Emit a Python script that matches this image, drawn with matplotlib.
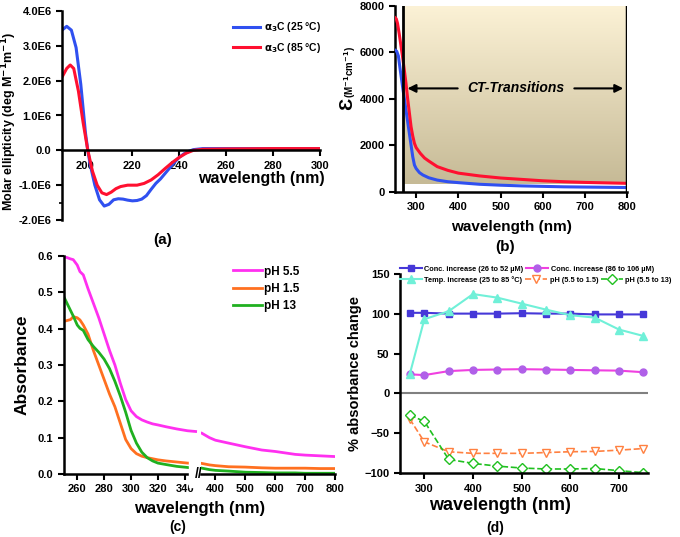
import numpy as np
import matplotlib
matplotlib.use('Agg')
import matplotlib.pyplot as plt

plt.rcParams['font.family'] = ['Liberation Sans', 'DejaVu Sans']
plt.rcParams['font.weight'] = 'bold'
plt.rcParams['axes.labelweight'] = 'bold'
plt.rcParams['axes.linewidth'] = 1.8
plt.rcParams['xtick.major.width'] = 1.5
plt.rcParams['ytick.major.width'] = 1.5
plt.rcParams['xtick.major.size'] = 4
plt.rcParams['ytick.major.size'] = 4
plt.rcParams['xtick.labelsize'] = 8
plt.rcParams['ytick.labelsize'] = 8
plt.rcParams['mathtext.default'] = 'bf'

# ---------- (a) CD spectra ----------
cd_wl_25 = [190, 192, 194, 196, 198, 200, 201, 202, 204, 206, 208, 210, 212, 214, 216, 218, 220, 222,
            224, 226, 228, 230, 232, 234, 236, 238, 240, 242, 244, 246, 250, 260, 280, 300]
cd_25 = [3.45, 3.56, 3.45, 2.95, 1.9, 0.5, 0.0, -0.4, -1.0, -1.42, -1.6, -1.55, -1.42, -1.39, -1.4, -1.43,
         -1.45, -1.44, -1.4, -1.3, -1.12, -0.95, -0.82, -0.66, -0.5, -0.34, -0.2, -0.1, -0.03, 0.02,
         0.05, 0.05, 0.05, 0.05]
cd_wl_85 = [190, 192, 193.5, 195, 197, 199, 201, 203, 205, 207, 209, 211, 213, 215, 218, 222, 225, 228,
            231, 234, 237, 240, 243, 246, 250, 260, 280, 300]
cd_85 = [2.1, 2.35, 2.45, 2.35, 1.7, 0.8, 0.0, -0.6, -1.0, -1.22, -1.27, -1.2, -1.1, -1.04, -1.0, -1.0,
         -0.95, -0.85, -0.7, -0.52, -0.35, -0.2, -0.08, 0.0, 0.03, 0.04, 0.05, 0.05]

# ---------- (b) molar absorptivity ----------
eps_wl_red = [250, 253, 256, 260, 264, 268, 272, 276, 280, 284, 288, 292, 296, 300, 310, 320, 330, 340,
              350, 375, 400, 450, 500, 550, 600, 650, 700, 750, 800]
eps_red = [7500, 7450, 7250, 6800, 6300, 5800, 5250, 4670, 4000, 3400, 2800, 2400, 2085, 1900, 1650,
           1450, 1320, 1200, 1080, 920, 800, 680, 590, 530, 470, 430, 400, 380, 360]
eps_wl_blue = [250, 254, 258, 262, 268, 276, 284, 292, 296, 300, 308, 316, 330, 350, 375, 400, 450, 500,
               550, 600, 650, 700, 750, 800]
eps_blue = [6100, 6050, 5850, 5300, 4520, 3520, 2515, 1508, 1150, 1000, 820, 720, 600, 500, 430, 390,
            320, 280, 250, 230, 210, 200, 190, 180]

# ---------- (c) absorbance at different pH ----------
abs_wl = [250, 255, 257, 260, 262, 264.5, 268, 272, 276, 280, 284, 288, 292, 296, 300, 304, 308, 312,
          316, 320, 326, 334, 342, 348, 355, 380, 400, 444, 500, 555, 600, 667, 700, 750, 800]
abs_ph55 = [0.599, 0.592, 0.59, 0.575, 0.557, 0.548, 0.51, 0.47, 0.43, 0.385, 0.34, 0.3, 0.25, 0.205,
            0.174, 0.158, 0.149, 0.143, 0.138, 0.135, 0.13, 0.124, 0.119, 0.117, 0.112, 0.1, 0.093,
            0.085, 0.075, 0.066, 0.062, 0.054, 0.052, 0.05, 0.048]
abs_ph15 = [0.42, 0.425, 0.433, 0.43, 0.424, 0.41, 0.385, 0.34, 0.3, 0.26, 0.22, 0.185, 0.14, 0.095,
            0.07, 0.056, 0.049, 0.045, 0.042, 0.039, 0.036, 0.033, 0.03, 0.029, 0.029, 0.025, 0.023,
            0.02, 0.019, 0.017, 0.016, 0.016, 0.016, 0.015, 0.015]
abs_ph13 = [0.488, 0.45, 0.435, 0.41, 0.401, 0.395, 0.37, 0.351, 0.335, 0.316, 0.29, 0.255, 0.215,
            0.17, 0.12, 0.085, 0.06, 0.045, 0.036, 0.03, 0.026, 0.021, 0.018, 0.016, 0.016, 0.012,
            0.01, 0.008, 0.005, 0.004, 0.003, 0.003, 0.002, 0.002, 0.002]

# ---------- (d) % absorbance change ----------
d_wl = [270, 300, 350, 400, 450, 500, 550, 600, 650, 700, 750]
conc_26_52 = [101, 101, 100, 100, 100, 100.5, 100, 100, 99, 99, 99]
conc_86_106 = [24, 23, 28, 29.5, 30, 30.4, 30, 29.5, 29, 28.6, 26.6]
temp_25_85 = [24, 93, 103, 124.5, 120, 112.5, 105, 98, 95, 80, 72]
ph_55_15 = [-32, -60.6, -73, -75, -75, -75, -74, -73, -72.6, -71, -69]
ph_55_13 = [-27, -35, -82.6, -87.6, -91, -93.4, -94.6, -94.6, -94, -96.7, -99.2]

W, H = 680, 537
fig = plt.figure(figsize=(W / 100, H / 100), dpi=100)


def box(l, t, r, b):
    return [l / W, 1 - b / H, (r - l) / W, (b - t) / H]


# ===== panel (a) =====
ax = fig.add_axes(box(62, 11, 320, 220))
ax.plot(cd_wl_25, np.array(cd_25) * 1e6, color='#3050F0', lw=2.2, label=r'$\alpha_3$C (25 °C)')
ax.plot(cd_wl_85, np.array(cd_85) * 1e6, color='#FF1030', lw=2.2, label=r'$\alpha_3$C (85 °C)')
ax.set_xlim(190, 300)
ax.set_ylim(-2e6, 4e6)
ax.spines['bottom'].set_position(('data', 0))
ax.spines['top'].set_visible(False)
ax.spines['right'].set_visible(False)
ax.set_xticks([200, 220, 240, 260, 280, 300])
ax.set_yticks([-2e6, -1e6, 0, 1e6, 2e6, 3e6, 4e6])
ax.set_yticklabels(['-2.0E6', '-1.0E6', '0.0', '1.0E6', '2.0E6', '3.0E6', '4.0E6'])
ax.set_yticks([-1.5e6], minor=True)
ax.tick_params(axis='y', which='minor', length=2, width=1.2)
ax.set_ylabel('Molar ellipticity (deg M$^{-1}$m$^{-1}$)', fontsize=9)
ax.yaxis.set_label_coords(-0.165, 0.47)
ax.text(1.02, 0.2, 'wavelength (nm)', transform=ax.transAxes, ha='right', va='center',
        fontsize=11.5)
ax.legend(loc='upper right', bbox_to_anchor=(1.04, 1.0), frameon=False, fontsize=7.5,
          handlelength=2.6, handletextpad=0.3, labelspacing=0.6)
fig.text(163 / W, 1 - 240 / H, '(a)', ha='center', va='center', fontsize=11)

# ===== panel (b) =====
ax = fig.add_axes(box(395, 6, 627.3, 191.7))
grad = np.linspace(0, 1, 256).reshape(-1, 1)
cmap = matplotlib.colors.LinearSegmentedColormap.from_list('tan', ['#C6BA96', '#FCF2D6'])
ax.imshow(grad, extent=[270, 800, 320, 8000], origin='lower', aspect='auto', cmap=cmap, zorder=0)
ax.plot(eps_wl_blue, eps_blue, color='#3050F0', lw=2.2, zorder=3)
ax.plot(eps_wl_red, eps_red, color='#FF1030', lw=2.2, zorder=3)
ax.axvline(270, color='black', lw=2, zorder=4)
ax.axvline(800, color='black', lw=2.5, zorder=4)
ax.set_xlim(250, 800)
ax.set_ylim(0, 8000)
ax.spines['top'].set_visible(False)
ax.spines['right'].set_visible(False)
ax.set_xticks([300, 400, 500, 600, 700, 800])
ax.set_yticks([0, 2000, 4000, 6000, 8000])
ax.annotate('', xy=(273, 4450), xytext=(405, 4450),
            arrowprops=dict(arrowstyle='-|>', color='black', lw=1.5, mutation_scale=12), zorder=5)
ax.annotate('', xy=(797, 4450), xytext=(668, 4450),
            arrowprops=dict(arrowstyle='-|>', color='black', lw=1.5, mutation_scale=12), zorder=5)
ax.text(537, 4450, 'CT-Transitions', ha='center', va='center', fontsize=10, style='italic', zorder=5)
ax.set_xlabel('wavelength (nm)', fontsize=11, labelpad=6)
fig.text(348 / W, 1 - 104 / H, 'Ɛ', rotation=90, ha='center', va='center', fontsize=14)
fig.text(350 / W, 1 - 72 / H, '(M$^{-1}$cm$^{-1}$)', rotation=90, ha='center', va='center',
         fontsize=7)
fig.text(505 / W, 1 - 247 / H, '(b)', ha='center', va='center', fontsize=11)

# ===== panel (c) =====
wl = np.array(abs_wl)
left = wl <= 350
right = wl >= 350
axL = fig.add_axes(box(63.8, 256, 198.3, 474))
axR = fig.add_axes(box(200.5, 256, 335, 474))
series_c = [(abs_ph55, '#FF30F0', 'pH 5.5'), (abs_ph15, '#FF7020', 'pH 1.5'),
            (abs_ph13, '#20B020', 'pH 13')]
for vals, col, lab in series_c:
    v = np.array(vals)
    axL.plot(wl[left], v[left], color=col, lw=2, label=lab)
    axR.plot(wl[right], v[right], color=col, lw=2)
for a in (axL, axR):
    a.set_ylim(0, 0.6)
    a.spines['top'].set_visible(False)
    a.spines['right'].set_visible(False)
axL.set_xlim(250, 350)
axR.set_xlim(350, 800)
axL.set_xticks([260, 280, 300, 320, 340])
axR.set_xticks([400, 500, 600, 700, 800])
axL.set_yticks([0, 0.1, 0.2, 0.3, 0.4, 0.5, 0.6])
axR.spines['left'].set_visible(False)
axR.set_yticks([])
axL.set_ylabel('Absorbance', fontsize=12.5, labelpad=6)
axL.text(1.0, 0.0, '//', transform=axL.transAxes, ha='center', va='center', fontsize=10,
         backgroundcolor='white', zorder=6)
fig.text(200 / W, 1 - 508 / H, 'wavelength (nm)', ha='center', va='center', fontsize=12)
fig.text(178 / W, 1 - 527 / H, '(c)', ha='center', va='center', fontsize=10)
fig.legend(handles=axL.get_lines(), loc='upper left', bbox_to_anchor=(222 / W, 1 - 255 / H),
           frameon=False, fontsize=8.5, handlelength=2.5, handletextpad=0.2, labelspacing=0.45)

# ===== panel (d) =====
ax = fig.add_axes(box(400, 273.7, 648.3, 473.3))
ax.axhline(0, color='#808080', lw=1.5, zorder=1)
h1, = ax.plot(d_wl, conc_26_52, color='#4638D8', lw=1.5, marker='s', ms=5,
              label='Conc. increase (26 to 52 µM)')
h2, = ax.plot(d_wl, conc_86_106, color='#F040E0', lw=1.5, marker='o', ms=5, mfc='#B060E8',
              mec='#B060E8', label='Conc. increase (86 to 106 µM)')
h3, = ax.plot(d_wl, temp_25_85, color='#70F0D8', lw=1.5, marker='^', ms=6,
              label='Temp. increase (25 to 85 °C)')
h4, = ax.plot(d_wl, ph_55_15, color='#FF8040', lw=1.2, ls='--', marker='v', ms=6, mfc='white',
              label='pH (5.5 to 1.5)')
h5, = ax.plot(d_wl, ph_55_13, color='#20C020', lw=1.2, ls='--', marker='D', ms=5, mfc='white',
              label='pH (5.5 to 13)')
ax.set_xlim(250, 760)
ax.set_ylim(-100, 150)
ax.spines['top'].set_visible(False)
ax.spines['right'].set_visible(False)
ax.set_xticks([300, 400, 500, 600, 700])
ax.set_yticks([-100, -50, 0, 50, 100, 150])
ax.set_ylabel('% absorbance change', fontsize=10.5, labelpad=2)
fig.text(500 / W, 1 - 506 / H, 'wavelength (nm)', ha='center', va='center', fontsize=13)
fig.legend(handles=[h1, h2], loc='center left', bbox_to_anchor=(400 / W, 1 - 269 / H),
           ncol=2, frameon=False, fontsize=5.3, handlelength=3, handletextpad=0.3,
           columnspacing=0.4, borderaxespad=0, borderpad=0)
fig.legend(handles=[h3, h4, h5], loc='center left', bbox_to_anchor=(400 / W, 1 - 280 / H),
           ncol=3, frameon=False, fontsize=5.3, handlelength=3, handletextpad=0.3,
           columnspacing=0.4, borderaxespad=0, borderpad=0)
fig.text(495 / W, 1 - 528 / H, '(d)', ha='center', va='center', fontsize=10)

fig.savefig('out.png', dpi=100)
